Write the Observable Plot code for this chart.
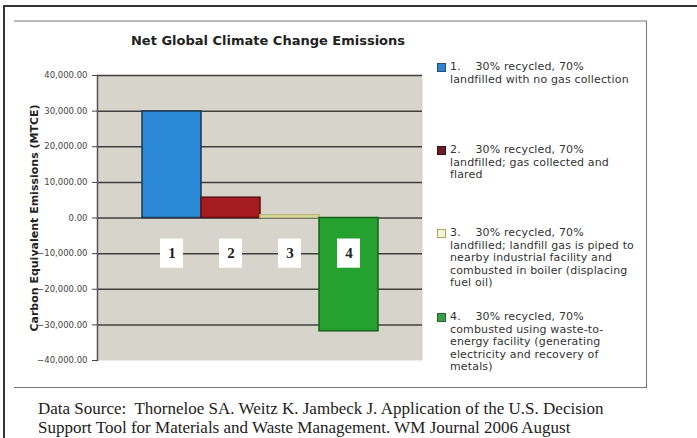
<!DOCTYPE html>
<html><head><meta charset="utf-8">
<script src="https://cdn.jsdelivr.net/npm/d3@7"></script>
<script src="https://cdn.jsdelivr.net/npm/@observablehq/plot@0.6"></script>
<style>
body{margin:0;background:#fff;}
#wrap{position:relative;width:697px;height:438px;overflow:hidden;font-family:"DejaVu Sans",sans-serif;background:#fff;}
.outerTop{position:absolute;left:3px;top:5px;width:700px;height:0;border-top:2px solid #333;}
.outerLeft{position:absolute;left:3px;top:5px;width:0;height:440px;border-left:2px solid #333;}
.inner{position:absolute;left:14px;top:20px;width:632px;height:365px;border-top:2px solid #bbb;border-right:1.5px solid #777;border-bottom:1.5px solid #777;}
#title{position:absolute;left:0;width:536px;top:33px;text-align:center;font-weight:bold;font-size:13px;color:#222;}
#chart{position:absolute;left:0;top:0;}
#legend{position:absolute;left:0;top:0;}
.item{position:absolute;left:437px;font-size:11px;line-height:12.5px;letter-spacing:0.15px;color:#333;}
.sw{position:absolute;left:0;top:2px;width:7px;height:7px;}
.txt{position:absolute;left:13px;top:0;white-space:nowrap;}
#caption{position:absolute;left:38px;top:400px;font-family:"Liberation Serif",serif;font-size:17px;line-height:18.5px;color:#222;white-space:nowrap;}
</style></head><body>
<div id="wrap">
 <div class="outerTop"></div>
 <div class="outerLeft"></div>
 <div class="inner"></div>
 <div id="title"></div>
 <div id="chart"></div>
 <div id="legend"></div>
 <div id="caption"></div>
</div>
<script>
// ---- data ----
const series = ["1", "2", "3", "4"];
const values = [29900, 5700, 800, -31800];
const yTicks = [-40000, -30000, -20000, -10000, 0, 10000, 20000, 30000, 40000];
const gridTicks = [-30000, -20000, -10000, 0, 10000, 20000, 30000, 40000];
const labelLevel = -10000;
const legendLines = [
  ["1.\u00a0\u00a0\u00a0 30% recycled, 70%", "landfilled with no gas collection"],
  ["2.\u00a0\u00a0\u00a0 30% recycled, 70%", "landfilled; gas collected and", "flared"],
  ["3.\u00a0\u00a0\u00a0 30% recycled, 70%", "landfilled; landfill gas is piped to", "nearby industrial facility and", "combusted in boiler (displacing", "fuel oil)"],
  ["4.\u00a0\u00a0\u00a0 30% recycled, 70%", "combusted using waste-to-", "energy facility (generating", "electricity and recovery of", "metals)"]
];
const titleText = "Net Global Climate Change Emissions";
const yLabel = "Carbon Equivalent Emissions (MTCE)";
const captionLines = [
  "Data Source:\u00a0 Thorneloe SA. Weitz K. Jambeck J. Application of the U.S. Decision",
  "Support Tool for Materials and Waste Management. WM Journal 2006 August"
];

// ---- styles ----
const fills = ["#2b88d6", "#a51b1f", "#dfe2a8", "#24a12e"];
const strokes = ["#1c3550", "#5e1012", "#b9bb7c", "#175f1c"];
const swatchFill = ["#2f86cf", "#6b1d24", "#f4f4d6", "#3c9b45"];
const swatchStroke = ["#1f4f80", "#3a0d12", "#a8a860", "#1e6a26"];
const legendTops = [61, 144, 227, 311];

const rows = series.map((s, i) => ({s, v: values[i], fill: fills[i], stroke: strokes[i]}));

const fmt = d3.format(",.2f");
const chart = Plot.plot({
  width: 430,
  height: 380,
  marginLeft: 97,
  marginRight: 8,
  marginTop: 75,
  marginBottom: 20,
  style: {background: "transparent", fontFamily: "DejaVu Sans, sans-serif"},
  x: {domain: series, paddingInner: 0, paddingOuter: 0.75, axis: null},
  y: {domain: [-40000, 40000]},
  marks: [
    Plot.frame({fill: "#d7d5cb", stroke: null}),
    Plot.ruleY(gridTicks, {stroke: "#3f3f3f", strokeWidth: 1.5}),
    Plot.frame({anchor: "left", stroke: "#555", strokeWidth: 1.5}),
    Plot.axisY({
      ticks: yTicks, tickFormat: fmt, tickSize: 5, tickPadding: 5,
      fontSize: 8.5, fill: "#444", stroke: "#444",
      label: yLabel, labelAnchor: "center", labelArrow: "none", labelOffset: 67
    }),
    Plot.barY(rows, {x: "s", y: "v", fill: "fill", stroke: "stroke", strokeWidth: 1.5}),
    Plot.barY(rows, {x: "s", y1: labelLevel - 4100, y2: labelLevel + 4100, fill: "white", insetLeft: 18, insetRight: 18}),
    Plot.text(rows, {x: "s", y: labelLevel, text: "s", fontFamily: "Liberation Serif, serif", fontSize: 15, fontWeight: "bold", fill: "#222"})
  ]
});
// style y-axis label
chart.querySelectorAll("text").forEach(t => {
  if (t.textContent === yLabel) {
    t.setAttribute("font-weight", "bold");
    t.setAttribute("font-size", "11");
    t.setAttribute("fill", "#222");
  }
});
document.getElementById("chart").appendChild(chart);

// legend
const leg = document.getElementById("legend");
legendLines.forEach((lines, i) => {
  const d = document.createElement("div");
  d.className = "item";
  d.style.top = legendTops[i] + "px";
  const sw = document.createElement("div");
  sw.className = "sw";
  sw.style.background = swatchFill[i];
  sw.style.border = "1px solid " + swatchStroke[i];
  d.appendChild(sw);
  const t = document.createElement("div");
  t.className = "txt";
  t.innerHTML = lines.map(l => l.replace(/&/g, "&amp;").replace(/</g, "&lt;")).join("<br>");
  d.appendChild(t);
  leg.appendChild(d);
});
document.getElementById("title").textContent = titleText;
document.getElementById("caption").innerHTML = captionLines.join("<br>");
</script>
</body></html>
